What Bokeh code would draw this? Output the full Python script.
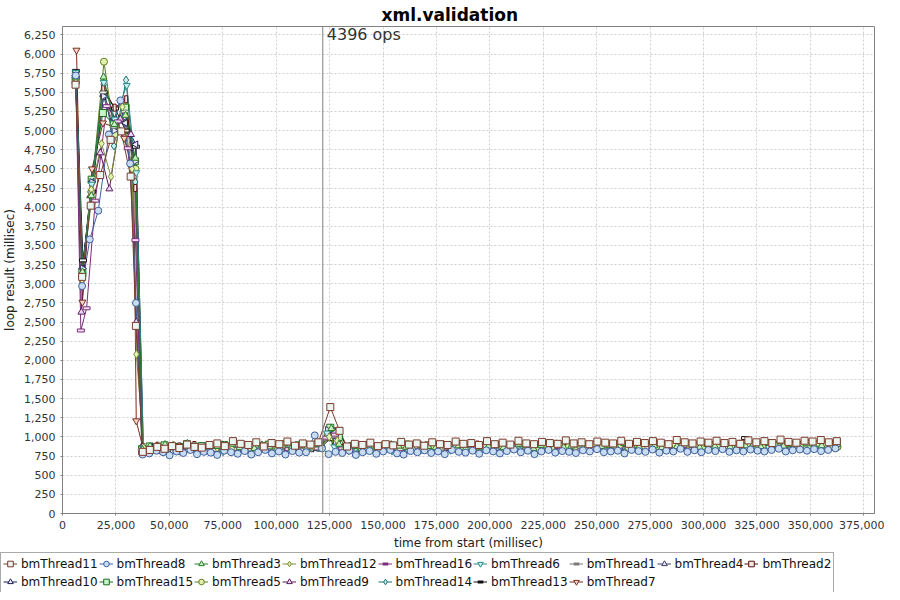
import math
import numpy as np
from bokeh.plotting import figure
from bokeh.layouts import column, row
from bokeh.models import (Range1d, SingleIntervalTicker, NumeralTickFormatter, Span, Label,
                          Legend, LegendItem, ColumnDataSource)
from bokeh.embed import file_html
from bokeh.resources import INLINE

# ------------------------------------------------------------------ data
thread_names = ["bmThread11", "bmThread8", "bmThread3", "bmThread12", "bmThread16", "bmThread6",
                "bmThread1", "bmThread4", "bmThread2", "bmThread10", "bmThread15", "bmThread5",
                "bmThread9", "bmThread14", "bmThread13", "bmThread7"]

run_start_ms = 500          # first loop starts shortly after start
run_end_ms = 363000         # end of measurement
loops_per_steady_point = 4  # each steady-state value summarises 4 consecutive loops
ops_marker_ms = 121800
ops_marker_text = "4396 ops"

# warm-up loop durations (ms), one per loop
warm_11 = [5600, 3090, 4020, 4420, 4880, 4990, 4400, 2450]
warm_8 = [5720, 2970, 3580, 3955, 4950, 5395, 4570, 2750]
warm_3 = [5700, 3155, 4150, 5700, 5080, 5200, 4640]
warm_12 = [5680, 3050, 4230, 4830, 4400, 5310, 4500, 2080]
warm_16 = [5700, 2390, 2680, 4085, 5320, 5120, 4770, 3570]
warm_6 = [5760, 3120, 4300, 5630, 5150, 5590, 4450]
warm_1 = [5690, 3100, 4200, 5500, 5050, 5250, 4400]
warm_4 = [5700, 3200, 4330, 5450, 5000, 5180, 4600]
warm_2 = [5650, 3150, 4250, 5550, 5300, 5410, 4250]
warm_10 = [5720, 3200, 4330, 5450, 5150, 5100, 4820]
warm_15 = [5650, 3150, 4360, 5230, 5080, 5300, 4600]
warm_5 = [5700, 3100, 4200, 5900, 4950, 5320, 4500]
warm_9 = [5700, 2630, 4150, 4710, 4240, 5150, 4950, 2500]
warm_14 = [5740, 3100, 4330, 5600, 4800, 5660, 4330]
warm_13 = [5780, 3306, 4200, 5500, 5290, 5000, 4790]
warm_7 = [6050, 2760, 4500, 5100, 5050, 4900, 4450, 1210]

# steady-state loop durations (ms)
steady_11 = [805, 830, 870, 845, 880, 855, 900, 870, 860, 895,
             915, 880, 945, 910, 895, 930, 875, 920, 905, 940,
             885, 915, 900, 930, 1390, 1080, 875, 910, 895, 925,
             880, 905, 890, 935, 900, 915, 885, 930, 905, 895,
             940, 910, 920, 895, 945, 905, 925, 900, 950, 915,
             905, 935, 920, 910, 955, 915, 930, 905, 940, 925,
             915, 950, 910, 935, 920, 945, 925, 905, 960, 930,
             915, 940, 925, 950, 920, 935, 910, 955, 930, 945,
             920, 965, 935, 925, 950, 940, 960, 930, 945, 970,
             935, 955, 965, 975, 960, 980, 950, 965, 975, 970]
steady_8 = [770, 785, 820, 800, 760, 810, 790, 830, 775, 805,
            795, 765, 820, 800, 780, 815, 770, 800, 830, 785,
            810, 770, 815, 795, 800, 1020, 850, 775, 805, 790,
            820, 765, 800, 815, 780, 810, 830, 785, 770, 815,
            800, 825, 790, 810, 775, 830, 805, 795, 820, 780,
            825, 810, 785, 815, 835, 800, 820, 775, 810, 830,
            795, 815, 805, 790, 825, 810, 840, 800, 810, 820,
            785, 830, 815, 805, 835, 795, 820, 810, 845, 805,
            825, 800, 830, 815, 840, 805, 825, 810, 835, 820,
            810, 830, 845, 810, 825, 835, 820, 840, 815, 830,
            850, 825, 810, 835, 820, 830, 815, 840, 825, 835]
steady_3 = [835, 880, 850, 900, 865, 840, 915, 870, 855, 890,
            875, 845, 905, 860, 880, 850, 895, 870, 840, 910,
            865, 885, 855, 900, 870, 1110, 905, 860, 875, 845,
            890, 870, 855, 900, 880, 865, 840, 895, 875, 860,
            905, 870, 885, 850, 915, 865, 880, 895, 860, 875,
            905, 885, 850, 890, 870, 910, 865, 880, 895, 855,
            900, 875, 890, 865, 915, 880, 870, 905, 885, 860,
            895, 875, 910, 890, 865, 900, 880, 920, 870, 895,
            885, 905, 875, 915, 890, 880, 900, 870, 910, 895,
            885, 920, 900, 910, 890, 905, 925, 895, 915, 900]
steady_12 = [860, 830, 875, 850, 895, 840, 865, 880, 825, 870,
             855, 890, 845, 870, 860, 835, 885, 865, 850, 900,
             840, 875, 860, 880, 855, 1000, 950, 845, 880, 860,
             835, 870, 890, 850, 865, 880, 845, 895, 860, 875,
             840, 885, 870, 855, 900, 865, 880, 850, 890, 875,
             860, 905, 870, 845, 885, 865, 895, 875, 855, 890,
             880, 865, 900, 870, 885, 860, 910, 875, 890, 865,
             880, 900, 870, 895, 885, 860, 905, 880, 870, 895,
             885, 910, 875, 890, 900, 870, 915, 885, 895, 880,
             905, 890, 875, 900, 910, 885, 920, 895, 905, 890]
steady_16 = [790, 845, 870, 830, 880, 855, 815, 865, 845, 890,
             830, 860, 875, 840, 855, 885, 825, 870, 850, 895,
             840, 860, 835, 880, 850, 990, 1030, 850, 835, 870,
             845, 860, 825, 880, 855, 840, 870, 865, 830, 885,
             850, 860, 875, 840, 890, 855, 870, 845, 880, 865,
             850, 895, 860, 875, 845, 885, 870, 855, 900, 865,
             880, 850, 890, 875, 860, 895, 870, 885, 855, 900,
             875, 865, 890, 880, 860, 905, 870, 885, 875, 895,
             860, 900, 880, 870, 910, 885, 875, 895, 880, 905,
             890, 870, 895, 885, 900, 875, 910, 890, 880, 900]
steady_6 = [850, 820, 865, 840, 875, 815, 855, 890, 835, 860,
            845, 805, 870, 850, 830, 885, 840, 860, 825, 875,
            845, 855, 830, 880, 860, 1050, 870, 840, 820, 855,
            875, 830, 860, 845, 815, 870, 850, 885, 835, 860,
            845, 875, 825, 865, 850, 880, 840, 870, 855, 835,
            890, 860, 845, 875, 850, 865, 830, 885, 855, 870,
            845, 880, 860, 840, 890, 865, 850, 875, 860, 885,
            845, 870, 880, 855, 895, 865, 875, 850, 890, 870,
            860, 885, 875, 855, 900, 870, 880, 865, 895, 875,
            860, 890, 880, 870, 895, 865, 885, 900, 875, 890,
            870, 885, 860, 895, 880]
steady_1 = [835, 860, 815, 875, 850, 830, 880, 845, 865, 820,
            870, 855, 840, 890, 860, 835, 875, 845, 865, 825,
            880, 850, 860, 840, 865, 975, 1010, 855, 870, 830,
            865, 845, 880, 835, 860, 875, 845, 855, 830, 885,
            860, 840, 870, 850, 880, 865, 835, 875, 855, 890,
            845, 870, 860, 880, 840, 885, 865, 850, 875, 860,
            895, 855, 870, 845, 885, 875, 860, 890, 850, 880,
            870, 865, 895, 855, 885, 870, 860, 900, 875, 865,
            890, 880, 855, 895, 870, 885, 875, 905, 865, 890,
            880, 870, 895, 875, 885, 900, 860, 890, 880, 895,
            870, 885, 890, 875, 900]
steady_4 = [855, 830, 870, 845, 885, 820, 860, 875, 840, 865,
            850, 890, 830, 870, 855, 845, 880, 860, 835, 875,
            850, 865, 840, 885, 860, 1090, 940, 855, 875, 840,
            860, 880, 845, 870, 855, 835, 890, 860, 875, 845,
            865, 880, 850, 870, 840, 895, 860, 875, 855, 885,
            865, 845, 880, 870, 855, 890, 875, 860, 885, 850,
            900, 870, 865, 890, 855, 880, 875, 895, 860, 885,
            870, 905, 865, 880, 890, 860, 895, 875, 885, 870,
            900, 865, 890, 880, 875, 905, 885, 870, 895, 880,
            900, 885, 875, 895, 880, 910, 890, 875, 900, 885,
            880, 895, 870, 905, 890]
steady_2 = [870, 840, 885, 855, 830, 875, 860, 895, 845, 870,
            850, 880, 835, 865, 890, 850, 875, 845, 860, 900,
            855, 870, 840, 885, 865, 1000, 960, 865, 845, 880,
            855, 870, 840, 895, 860, 875, 850, 885, 865, 845,
            890, 870, 855, 880, 860, 900, 865, 850, 885, 875,
            860, 895, 870, 855, 885, 865, 905, 875, 860, 890,
            870, 880, 855, 900, 875, 865, 890, 880, 870, 905,
            860, 885, 875, 895, 865, 880, 900, 870, 890, 875,
            910, 880, 865, 895, 885, 875, 900, 890, 880, 910,
            885, 895, 905, 880, 900, 890, 875, 910, 895, 885]
steady_10 = [845, 870, 825, 860, 885, 840, 855, 875, 830, 865,
             850, 890, 840, 860, 875, 835, 880, 855, 845, 870,
             860, 830, 885, 850, 865, 1060, 905, 840, 865, 850,
             880, 835, 870, 855, 860, 890, 845, 875, 860, 840,
             885, 865, 850, 870, 855, 895, 860, 845, 880, 870,
             855, 890, 865, 875, 850, 885, 860, 895, 870, 855,
             880, 865, 900, 875, 860, 890, 870, 880, 855, 895,
             875, 865, 905, 870, 885, 860, 895, 880, 870, 900,
             885, 865, 910, 875, 890, 880, 870, 905, 885, 895,
             875, 910, 890, 880, 900, 870, 895, 885, 905, 890,
             880, 900, 875, 895, 885]
steady_15 = [840, 875, 860, 890, 850, 870, 905, 855, 880, 865,
             845, 895, 870, 860, 885, 850, 875, 900, 855, 880,
             865, 890, 845, 875, 860, 1120, 1000, 860, 880, 850,
             895, 870, 855, 885, 865, 900, 850, 875, 890, 860,
             880, 870, 905, 855, 885, 875, 860, 895, 870, 880,
             865, 900, 875, 855, 890, 880, 865, 905, 870, 885,
             895, 860, 880, 900, 875, 865, 910, 885, 870, 895,
             880, 905, 875, 890, 865, 915, 880, 895, 885, 870,
             905, 890, 880, 910, 875, 900, 890, 885, 915, 895,
             880, 905, 920, 890, 900, 885, 910, 895, 905, 890]
steady_5 = [825, 860, 845, 875, 835, 865, 880, 850, 870, 840,
            885, 855, 865, 830, 875, 860, 845, 890, 855, 870,
            840, 880, 865, 850, 860, 1030, 945, 855, 870, 840,
            880, 860, 845, 875, 865, 890, 850, 870, 855, 885,
            840, 875, 865, 895, 855, 870, 880, 850, 890, 865,
            875, 860, 900, 870, 855, 885, 875, 865, 895, 860,
            880, 870, 905, 865, 885, 875, 860, 895, 880, 870,
            890, 865, 905, 885, 875, 895, 870, 880, 900, 865,
            890, 885, 875, 910, 880, 870, 900, 890, 880, 905,
            875, 895, 885, 870, 900, 880, 910, 890, 875, 900,
            885, 895, 880]
steady_9 = [810, 845, 830, 865, 820, 850, 875, 835, 860, 815,
            870, 845, 830, 880, 850, 825, 865, 840, 855, 870,
            830, 860, 845, 835, 850, 990, 1070, 840, 860, 825,
            870, 850, 835, 875, 845, 860, 830, 880, 855, 840,
            865, 850, 875, 835, 885, 855, 845, 870, 860, 840,
            880, 865, 850, 875, 845, 890, 860, 870, 850, 880,
            865, 845, 885, 870, 855, 890, 865, 875, 860, 895,
            870, 855, 885, 875, 865, 890, 860, 880, 870, 895,
            875, 865, 885, 900, 870, 880, 890, 875, 865, 895,
            885, 870, 890, 880, 895, 875, 900, 885, 870, 890,
            880, 895, 875, 890, 885]
steady_14 = [830, 855, 870, 840, 880, 825, 860, 845, 875, 835,
             865, 850, 885, 840, 870, 855, 830, 880, 860, 845,
             870, 835, 885, 855, 860, 1010, 920, 850, 875, 835,
             860, 880, 845, 865, 850, 890, 835, 870, 855, 880,
             845, 865, 875, 840, 890, 860, 850, 875, 865, 845,
             885, 870, 855, 880, 860, 895, 865, 850, 875, 885,
             860, 870, 890, 855, 880, 865, 875, 895, 860, 885,
             870, 880, 855, 900, 875, 865, 885, 870, 895, 880,
             860, 905, 875, 885, 870, 890, 880, 900, 865, 895,
             880, 875, 890, 885, 900, 870, 895, 880, 905, 885,
             875, 895, 880, 890, 900]
steady_13 = [855, 880, 840, 870, 895, 850, 865, 885, 835, 875,
             860, 890, 845, 870, 880, 855, 900, 865, 850, 885,
             870, 840, 895, 860, 865, 970, 1100, 865, 850, 885,
             870, 855, 895, 860, 880, 845, 890, 870, 860, 900,
             855, 880, 875, 865, 895, 850, 885, 870, 905, 860,
             880, 890, 865, 875, 900, 855, 885, 880, 870, 910,
             865, 890, 875, 885, 860, 905, 880, 870, 895, 885,
             875, 915, 870, 890, 880, 900, 865, 895, 885, 875,
             985, 890, 880, 905, 870, 915, 885, 895, 880, 915,
             890, 900, 885, 910, 895, 880, 905, 890, 915, 900]
steady_7 = [835, 870, 850, 885, 840, 865, 880, 845, 875, 855,
            890, 835, 870, 860, 880, 845, 875, 865, 850, 895,
            855, 870, 845, 880, 860, 1080, 930, 855, 875, 845,
            885, 860, 870, 850, 890, 865, 855, 880, 870, 845,
            895, 860, 875, 885, 855, 870, 890, 865, 880, 850,
            895, 875, 860, 885, 870, 900, 865, 875, 890, 855,
            885, 880, 865, 895, 870, 885, 860, 905, 875, 890,
            880, 865, 900, 885, 870, 895, 880, 910, 875, 885,
            890, 870, 905, 880, 895, 885, 875, 910, 890, 880,
            900, 895, 885, 910, 890, 880, 905, 895, 885, 900]

warmups = [warm_11, warm_8, warm_3, warm_12, warm_16, warm_6, warm_1, warm_4,
           warm_2, warm_10, warm_15, warm_5, warm_9, warm_14, warm_13, warm_7]
steadies = [steady_11, steady_8, steady_3, steady_12, steady_16, steady_6, steady_1, steady_4,
            steady_2, steady_10, steady_15, steady_5, steady_9, steady_14, steady_13, steady_7]

# ------------------------------------------------------------------ styles
line_colors = ["#7c3b2c", "#3f5f9c", "#2c7c2c", "#7c8c3a", "#7a2e7a", "#2e8a8a",
               "#7a7a7a", "#3c3c6c", "#5c0c0c", "#1c1c5c", "#1c6c1c", "#5c7c1c",
               "#5c1c5c", "#1c6c6c", "#101010", "#7c2c1c"]
fill_colors = ["#eaf4f0", "#c8dcf2", "#c8f0c0", "#e2f2b0", "#f2e2f2", "#c4f2f2",
               "#e8e8e8", "#e6e6f8", "#f4e4e4", "#eeeeff", "#c8f4c8", "#e2f2aa",
               "#ecd8f4", "#c8f0f0", "#f4f4f4", "#f4d8d0"]
marker_kinds = ["square", "circle", "triangle", "diamond", "hrect", "inverted_triangle",
                "hellipse", "tri_right", "vrect", "tri_left", "square", "circle",
                "triangle", "diamond", "hrect", "inverted_triangle"]
scatter_sizes = {"square": 7, "circle": 7, "triangle": 7, "diamond": 8, "inverted_triangle": 7}

FONT = "DejaVu Sans"


def series_xy(warm, steady):
    w = np.asarray(warm, dtype=float)
    s = np.asarray(steady, dtype=float)
    xw = run_start_ms + np.cumsum(w)
    xs = xw[-1] + loops_per_steady_point * np.cumsum(s)
    x = np.concatenate([xw, xs])
    y = np.concatenate([w, s])
    keep = x <= run_end_ms
    return x[keep], y[keep]


# ------------------------------------------------------------------ main chart
p = figure(width=884, height=552, x_range=Range1d(0, 380000), y_range=Range1d(0, 6360),
           output_backend="svg", toolbar_location=None, title="xml.validation",
           min_border_left=54, min_border_right=10, min_border_top=2, min_border_bottom=2)
p.background_fill_color = "white"
p.border_fill_color = "white"
p.outline_line_color = "#808080"

p.title.align = "left"
p.title.offset = 319
p.title.text_font = FONT
p.title.text_font_size = "17px"
p.title.text_font_style = "bold"
p.title.text_color = "#000000"
p.title.standoff = 4

p.xaxis.ticker = SingleIntervalTicker(interval=25000)
p.yaxis.ticker = SingleIntervalTicker(interval=250)
p.xaxis.formatter = NumeralTickFormatter(format="0,0")
p.yaxis.formatter = NumeralTickFormatter(format="0,0")
p.xaxis.axis_label = "time from start (millisec)"
p.yaxis.axis_label = "loop result (millisec)"
for ax in (p.xaxis[0], p.yaxis[0]):
    ax.axis_label_text_font = FONT
    ax.axis_label_text_font_size = "12px"
    ax.axis_label_text_font_style = "normal"
    ax.axis_label_text_color = "#222222"
    ax.major_label_text_font = FONT
    ax.major_label_text_font_size = "11px"
    ax.major_label_text_color = "#333333"
    ax.minor_tick_line_color = None
    ax.major_tick_out = 2
    ax.major_tick_in = 0
    ax.major_tick_line_color = "#808080"
    ax.axis_line_color = "#808080"
    ax.major_label_standoff = 3
    ax.axis_label_standoff = 4

for g in (p.xgrid[0], p.ygrid[0]):
    g.grid_line_color = "#cfcfcf"
    g.grid_line_dash = "2 2"
    g.grid_line_width = 1

sources = []
for warm, steady in zip(warmups, steadies):
    x, y = series_xy(warm, steady)
    sources.append(ColumnDataSource(dict(x=x, y=y)))

n = len(thread_names)

# lines first (reverse order so the first series ends up on top), then shapes
for i in reversed(range(n)):
    p.line("x", "y", source=sources[i], line_color=line_colors[i], line_width=1)

for i in reversed(range(n)):
    kind = marker_kinds[i]
    lc, fc, src = line_colors[i], fill_colors[i], sources[i]
    if kind in scatter_sizes:
        p.scatter("x", "y", source=src, marker=kind, size=scatter_sizes[kind],
                  line_color=lc, fill_color=fc)
    elif kind in ("tri_right", "tri_left"):
        ang = -math.pi / 2 if kind == "tri_right" else math.pi / 2
        p.scatter("x", "y", source=src, marker="triangle", size=7, angle=ang,
                  line_color=lc, fill_color=fc)
    elif kind in ("hrect", "vrect"):
        w, h = (7, 3) if kind == "hrect" else (3, 7)
        p.rect("x", "y", source=src, width=w, height=h, width_units="screen",
               height_units="screen", line_color=lc, fill_color=fc)
    else:  # horizontal ellipse
        p.ellipse("x", "y", source=src, width=7, height=3, width_units="screen",
                  height_units="screen", line_color=lc, fill_color=fc)

p.add_layout(Span(location=ops_marker_ms, dimension="height", line_color="#808080", line_width=1))
p.add_layout(Label(x=ops_marker_ms, y=6360, text=ops_marker_text, x_offset=4, y_offset=2,
                   text_baseline="top", text_font=FONT, text_font_size="16px",
                   text_color="#333333"))

# ------------------------------------------------------------------ legend strip
lg = figure(width=884, height=40, x_range=Range1d(0, 1), y_range=Range1d(0, 1),
            output_backend="svg", toolbar_location=None, x_axis_type=None, y_axis_type=None,
            min_border=0, min_border_left=0, min_border_right=0, min_border_top=0,
            min_border_bottom=0)
lg.outline_line_color = None
lg.background_fill_color = "white"
lg.border_fill_color = "white"

# legend-only glyphs: one point each, placed outside the strip's visible range
off = dict(x=[-5.0], y=[-5.0])
items = []
for i in range(n):
    kind = marker_kinds[i]
    lc, fc = line_colors[i], fill_colors[i]
    lr = lg.line(x=off["x"], y=off["y"], line_color=lc, line_width=1)
    if kind in scatter_sizes:
        mr = lg.scatter(x=off["x"], y=off["y"], marker=kind, size=6, line_color=lc, fill_color=fc)
    elif kind in ("tri_right", "tri_left"):
        mr = lg.scatter(x=off["x"], y=off["y"], marker="triangle", size=6, line_color=lc,
                        fill_color=fc)
    elif kind == "vrect":
        mr = lg.scatter(x=off["x"], y=off["y"], marker="square", size=6, line_color=lc,
                        fill_color=fc)
    else:
        mr = lg.scatter(x=off["x"], y=off["y"], marker="dash", size=6, line_color=lc,
                        line_width=3)
    items.append(LegendItem(label=thread_names[i], renderers=[lr, mr]))

legend = Legend(items=items, orientation="horizontal", ncols=9, location="top_left",
                label_text_font=FONT, label_text_font_size="12px", label_text_color="#111111",
                glyph_width=14, glyph_height=17, label_standoff=4, spacing=1, padding=2,
                margin=0, border_line_color="#555555", border_line_width=1,
                background_fill_color="white", background_fill_alpha=1.0,
                label_height=17)
lg.add_layout(legend, "center")

layout = column(p, row(lg), spacing=0)
open("out.html", "w").write(file_html(layout, INLINE))
